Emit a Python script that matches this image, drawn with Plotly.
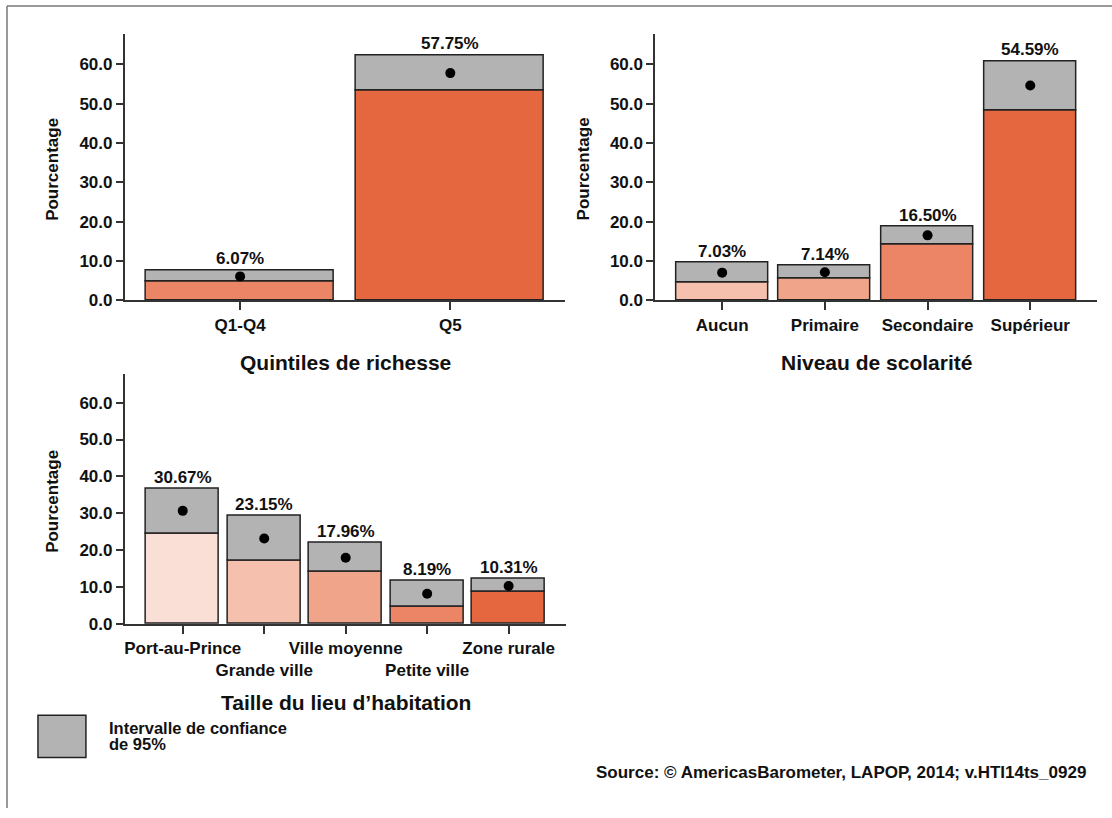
import plotly.graph_objects as go

# ---------------- data ----------------
wealth_cats = ["Q1-Q4", "Q5"]
wealth_est = [6.07, 57.75]
wealth_lo = [4.7, 53.2]
wealth_hi = [7.6, 62.3]

edu_cats = ["Aucun", "Primaire", "Secondaire", "Supérieur"]
edu_est = [7.03, 7.14, 16.50, 54.59]
edu_lo = [4.6, 5.6, 14.2, 48.1]
edu_hi = [9.6, 8.7, 18.7, 60.8]

size_cats = ["Port-au-Prince", "Grande ville", "Ville moyenne", "Petite ville", "Zone rurale"]
size_ticktext = ["Port-au-Prince", "<br>Grande ville", "Ville moyenne", "<br>Petite ville", "Zone rurale"]
size_est = [30.67, 23.15, 17.96, 8.19, 10.31]
size_lo = [24.5, 17.05, 14.0, 4.55, 8.6]
size_hi = [36.7, 29.3, 22.0, 11.6, 12.1]

wealth_colors = ["#EC8566", "#E5673F"]
edu_colors = ["#F5C1AE", "#F0A489", "#EC8566", "#E5673F"]
size_colors = ["#FADFD6", "#F5C1AE", "#F0A489", "#EC8566", "#E5673F"]

y_ticks = [0, 10, 20, 30, 40, 50, 60]
y_ticktext = ["0.0", "10.0", "20.0", "30.0", "40.0", "50.0", "60.0"]

legend_lines = ["Intervalle de confiance", "de 95%"]
source_text = "Source: © AmericasBarometer, LAPOP, 2014; v.HTI14ts_0929"

W, H = 1112, 818
FONT = "Liberation Sans, Arial, Helvetica, sans-serif"
GRAY = "#B3B3B3"
EDGE = "#222222"
AXC = "#333333"
TXT = "#111111"

fig = go.Figure()

def px_x(x):
    return x / W

def px_y(y):
    return 1 - y / H

panels = [
    (wealth_cats, wealth_cats, wealth_est, wealth_lo, wealth_hi, wealth_colors,
     (124, 565), (34, 304), [-0.548, 1.548], "Quintiles de richesse", 367),
    (edu_cats, edu_cats, edu_est, edu_lo, edu_hi, edu_colors,
     (655, 1097), (34, 304), [-0.65, 3.65], "Niveau de scolarité", 367),
    (size_cats, size_ticktext, size_est, size_lo, size_hi, size_colors,
     (124, 566), (378.5, 631.7), [-0.71, 4.71], "Taille du lieu d’habitation", 711),
]

annotations = []
for i, (cats, ttext, est, lo, hi, cols, xd, yd, xr, title, ty) in enumerate(panels):
    n = i + 1
    xa = "x" if n == 1 else f"x{n}"
    ya = "y" if n == 1 else f"y{n}"
    ci = [h - l for h, l in zip(hi, lo)]
    fig.add_trace(go.Bar(x=cats, y=lo, base=[0] * len(cats), width=0.895,
                         marker=dict(color=cols, line=dict(color=EDGE, width=1.5)),
                         xaxis=xa, yaxis=ya, showlegend=False, hoverinfo="skip"))
    fig.add_trace(go.Bar(x=cats, y=ci, base=lo, width=0.895,
                         marker=dict(color=GRAY, line=dict(color=EDGE, width=1.5)),
                         xaxis=xa, yaxis=ya, showlegend=False, hoverinfo="skip"))
    fig.add_trace(go.Scatter(x=cats, y=est, mode="markers",
                             marker=dict(color="black", size=10),
                             xaxis=xa, yaxis=ya, showlegend=False, hoverinfo="skip"))
    for c, e, h in zip(cats, est, hi):
        annotations.append(dict(x=c, y=h, xref=xa, yref=ya, text=f"{e:.2f}%",
                                showarrow=False, yanchor="bottom", yshift=0,
                                font=dict(family=FONT, size=17, color=TXT, weight="bold")))
    xkey = "xaxis" if n == 1 else f"xaxis{n}"
    ykey = "yaxis" if n == 1 else f"yaxis{n}"
    fig.update_layout(**{
        xkey: dict(domain=[px_x(xd[0]), px_x(xd[1])], anchor=ya, type="category",
                   categoryorder="array", categoryarray=cats,
                   tickmode="array", tickvals=cats, ticktext=ttext, tickangle=0,
                   range=xr, showline=True, linecolor=AXC, linewidth=2,
                   ticks="outside", ticklen=8, tickwidth=1.5, tickcolor=AXC,
                   showgrid=False, zeroline=False, fixedrange=True,
                   tickfont=dict(family=FONT, size=17, color=TXT, weight="bold")),
        ykey: dict(domain=[px_y(yd[1]), px_y(yd[0])], anchor=xa,
                   range=[0, 67.8], tickmode="array", tickvals=y_ticks, ticktext=y_ticktext,
                   showline=True, linecolor=AXC, linewidth=2,
                   ticks="outside", ticklen=7, tickwidth=1.5, tickcolor=AXC,
                   showgrid=False, zeroline=False, fixedrange=True,
                   tickfont=dict(family=FONT, size=17, color=TXT, weight="bold")),
    })
    annotations.append(dict(x=px_x((xd[0] + xd[1]) / 2), y=px_y(ty), xref="paper", yref="paper",
                            text=title, showarrow=False, xanchor="center", yanchor="middle",
                            font=dict(family=FONT, size=21, color=TXT, weight="bold")))
    annotations.append(dict(x=px_x(xd[0] - 72), y=px_y((yd[0] + yd[1]) / 2 + 2),
                            xref="paper", yref="paper", text="Pourcentage", textangle=-90,
                            showarrow=False, xanchor="center", yanchor="middle",
                            font=dict(family=FONT, size=17, color=TXT, weight="bold")))

shapes = [
    dict(type="rect", xref="paper", yref="paper", x0=px_x(37), x1=px_x(85),
         y0=px_y(767), y1=px_y(724), fillcolor=GRAY, line=dict(color=EDGE, width=1.5)),
    dict(type="line", xref="paper", yref="paper", x0=px_x(6), x1=1, y0=px_y(6), y1=px_y(6),
         line=dict(color="#777777", width=1.5)),
    dict(type="line", xref="paper", yref="paper", x0=px_x(6), x1=px_x(6), y0=0, y1=px_y(6),
         line=dict(color="#777777", width=1.5)),
]
for line, ly in zip(legend_lines, [737.5, 753.5]):
    annotations.append(dict(x=px_x(106), y=px_y(ly), xref="paper", yref="paper",
                            text=line, showarrow=False,
                            xanchor="left", yanchor="middle", align="left",
                            font=dict(family=FONT, size=16.5, color=TXT, weight="bold")))
annotations.append(dict(x=px_x(1088), y=px_y(782), xref="paper", yref="paper",
                        text=source_text,
                        showarrow=False, xanchor="right", yanchor="middle",
                        font=dict(family=FONT, size=17, color=TXT, weight="bold")))

fig.update_layout(width=W, height=H, margin=dict(l=0, r=0, t=0, b=0),
                  paper_bgcolor="white", plot_bgcolor="white",
                  barmode="overlay", bargap=0, showlegend=False,
                  annotations=annotations, shapes=shapes)

fig.write_html("out.html", config={"displayModeBar": False},
               post_script="document.body.style.margin='0px';document.body.style.overflow='hidden';")
